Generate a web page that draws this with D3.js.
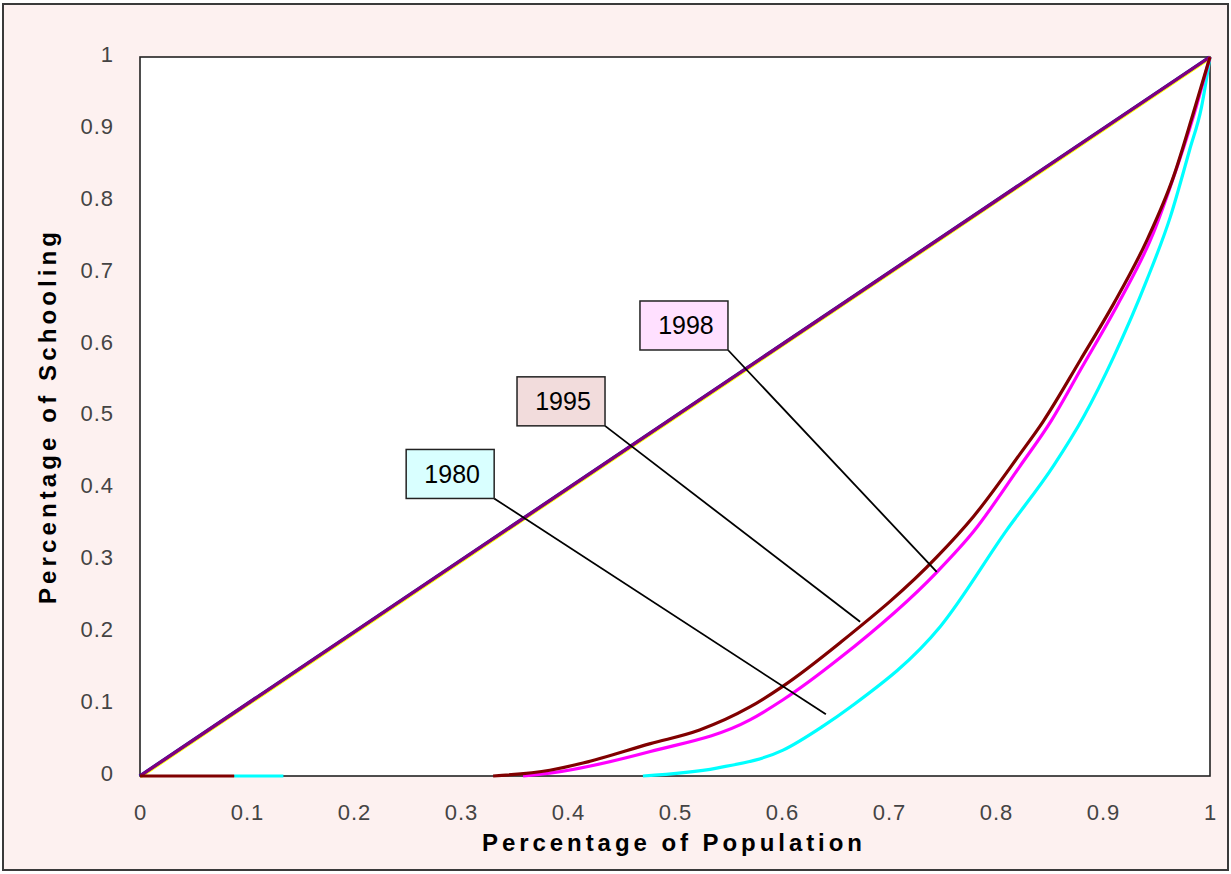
<!DOCTYPE html>
<html>
<head>
<meta charset="utf-8">
<script src="https://cdn.jsdelivr.net/npm/d3@7/dist/d3.min.js"></script>
<style>
  html, body { margin: 0; padding: 0; background: #ffffff; }
  svg { display: block; }
</style>
</head>
<body>
<svg id="chart" width="1231" height="874"></svg>
<script>
// ---------- data ----------
const xTicks = [0, 0.1, 0.2, 0.3, 0.4, 0.5, 0.6, 0.7, 0.8, 0.9, 1];
const xTickLabels = ["0", "0.1", "0.2", "0.3", "0.4", "0.5", "0.6", "0.7", "0.8", "0.9", "1"];
const yTicks = [0, 0.1, 0.2, 0.3, 0.4, 0.5, 0.6, 0.7, 0.8, 0.9, 1];
const yTickLabels = ["0", "0.1", "0.2", "0.3", "0.4", "0.5", "0.6", "0.7", "0.8", "0.9", "1"];

// equality lines (one per year, overlapping)
const equalityX = [0, 1];
const equalityY = [0, 1];

// Lorenz curves (null = gap)
const pop1980 = [0.088, 0.134, null, 0.47, 0.539, 0.601, 0.638, 0.664, 0.748, 0.810, 0.854, 0.882, 0.910, 0.941, 0.963, 0.981, 0.992, 1.0];
const sch1980 = [0, 0, null, 0, 0.011, 0.036, 0.069, 0.096, 0.208, 0.342, 0.432, 0.500, 0.583, 0.690, 0.778, 0.871, 0.93, 1.0];

const pop1998 = [0.358, 0.383, 0.477, 0.570, 0.601, 0.654, 0.745, 0.779, 0.822, 0.852, 0.879, 0.916, 0.947, 0.963, 0.985, 1.0];
const sch1998 = [0, 0.004, 0.034, 0.078, 0.106, 0.164, 0.284, 0.340, 0.430, 0.495, 0.565, 0.662, 0.755, 0.820, 0.92, 1.0];

const pop1995 = [0, 0.088, null, 0.33, 0.383, 0.414, 0.477, 0.523, 0.570, 0.601, 0.654, 0.745, 0.779, 0.822, 0.844, 0.879, 0.910, 0.941, 0.966, 0.984, 1.0];
const sch1995 = [0, 0, null, 0, 0.008, 0.018, 0.045, 0.064, 0.096, 0.125, 0.185, 0.305, 0.361, 0.447, 0.493, 0.579, 0.657, 0.745, 0.834, 0.920, 1.0];

// callouts: label, box anchor (data coords of box bottom-right corner), target point
const calloutLabels = ["1998", "1995", "1980"];
const calloutBoxX = [0.5495, 0.4346, 0.331];
const calloutBoxY = [0.5925, 0.487, 0.386];
const calloutTargetX = [0.7446, 0.673, 0.641];
const calloutTargetY = [0.284, 0.2146, 0.0858];
const calloutFill = ["#ffe0ff", "#f2dcdc", "#d9ffff"];

const xTitle = "Percentage of Population";
const yTitle = "Percentage of Schooling";

// ---------- drawing ----------
const plot = { left: 140, right: 1210, top: 57, bottom: 776 };
const svg = d3.select("#chart");

// outer background
svg.append("rect").attr("x", 3).attr("y", 4).attr("width", 1225).attr("height", 866)
  .attr("fill", "#fdf1f0").attr("stroke", "#3a3a3a").attr("stroke-width", 2);

const x = d3.scaleLinear().domain([0, 1]).range([plot.left, plot.right]);
const y = d3.scaleLinear().domain([0, 1]).range([plot.bottom, plot.top]);

// plot area
svg.append("rect").attr("x", plot.left).attr("y", plot.top)
  .attr("width", plot.right - plot.left).attr("height", plot.bottom - plot.top)
  .attr("fill", "#ffffff").attr("stroke", "#222").attr("stroke-width", 1.6);

// axes (labels only)
const fontTick = "'Liberation Sans', Arial, sans-serif";
const xAxis = d3.axisBottom(x).tickValues(xTicks).tickSize(0).tickPadding(0)
  .tickFormat((d, i) => xTickLabels[i]);
const gx = svg.append("g").attr("transform", `translate(0,${plot.bottom})`).call(xAxis);
gx.select(".domain").remove();
gx.selectAll("text").attr("y", 44).attr("dy", 0)
  .attr("font-family", fontTick).attr("font-size", 22).attr("fill", "#444")
  .attr("letter-spacing", 1);

const yAxis = d3.axisLeft(y).tickValues(yTicks).tickSize(0).tickPadding(0)
  .tickFormat((d, i) => yTickLabels[i]);
const gy = svg.append("g").attr("transform", `translate(${plot.left - 26},0)`).call(yAxis);
gy.select(".domain").remove();
gy.selectAll("text").attr("x", 0).attr("dy", "0.2em")
  .attr("font-family", fontTick).attr("font-size", 22).attr("fill", "#444")
  .attr("letter-spacing", 1);

// lines
const line = d3.line()
  .defined(d => d[0] !== null && d[1] !== null)
  .curve(d3.curveMonotoneX)
  .x(d => x(d[0])).y(d => y(d[1]));
const zip = (a, b) => a.map((v, i) => [v, b[i]]);

const g = svg.append("g");
const eq = zip(equalityX, equalityY);
g.append("path").datum(eq).attr("d", line).attr("fill", "none")
  .attr("stroke", "#ffff00").attr("stroke-width", 3.4).attr("transform", "translate(0.6,0.6)");
g.append("path").datum(eq).attr("d", line).attr("fill", "none")
  .attr("stroke", "#1010a0").attr("stroke-width", 3.2).attr("transform", "translate(-0.4,0)");
g.append("path").datum(eq).attr("d", line).attr("fill", "none")
  .attr("stroke", "#800080").attr("stroke-width", 3.2);

g.append("path").datum(zip(pop1980, sch1980)).attr("d", line).attr("fill", "none")
  .attr("stroke", "#00ffff").attr("stroke-width", 3.2).attr("stroke-linejoin", "round");
g.append("path").datum(zip(pop1998, sch1998)).attr("d", line).attr("fill", "none")
  .attr("stroke", "#ff00ff").attr("stroke-width", 3.2).attr("stroke-linejoin", "round");
g.append("path").datum(zip(pop1995, sch1995)).attr("d", line).attr("fill", "none")
  .attr("stroke", "#800000").attr("stroke-width", 3.2).attr("stroke-linejoin", "round");

// callouts
const boxW = 88, boxH = 49;
calloutLabels.forEach((lab, i) => {
  const bx = x(calloutBoxX[i]), by = y(calloutBoxY[i]);
  svg.append("line").attr("x1", bx).attr("y1", by)
    .attr("x2", x(calloutTargetX[i])).attr("y2", y(calloutTargetY[i]))
    .attr("stroke", "#000").attr("stroke-width", 1.8);
  svg.append("rect").attr("x", bx - boxW).attr("y", by - boxH)
    .attr("width", boxW).attr("height", boxH)
    .attr("fill", calloutFill[i]).attr("stroke", "#222").attr("stroke-width", 1.5);
  svg.append("text").attr("x", bx - boxW / 2 + 2).attr("y", by - boxH / 2)
    .attr("dy", "0.36em").attr("text-anchor", "middle")
    .attr("font-family", fontTick).attr("font-size", 25).attr("fill", "#000")
    .text(lab);
});

// axis titles
svg.append("text").attr("x", 672).attr("y", 851).attr("text-anchor", "middle")
  .attr("font-family", fontTick).attr("font-weight", "bold").attr("font-size", 24)
  .attr("textLength", 380).attr("lengthAdjust", "spacing")
  .text(xTitle);
svg.append("text").attr("transform", "translate(56,418) rotate(-90)")
  .attr("text-anchor", "middle")
  .attr("font-family", fontTick).attr("font-weight", "bold").attr("font-size", 24)
  .attr("textLength", 372).attr("lengthAdjust", "spacing")
  .text(yTitle);
</script>
</body>
</html>
